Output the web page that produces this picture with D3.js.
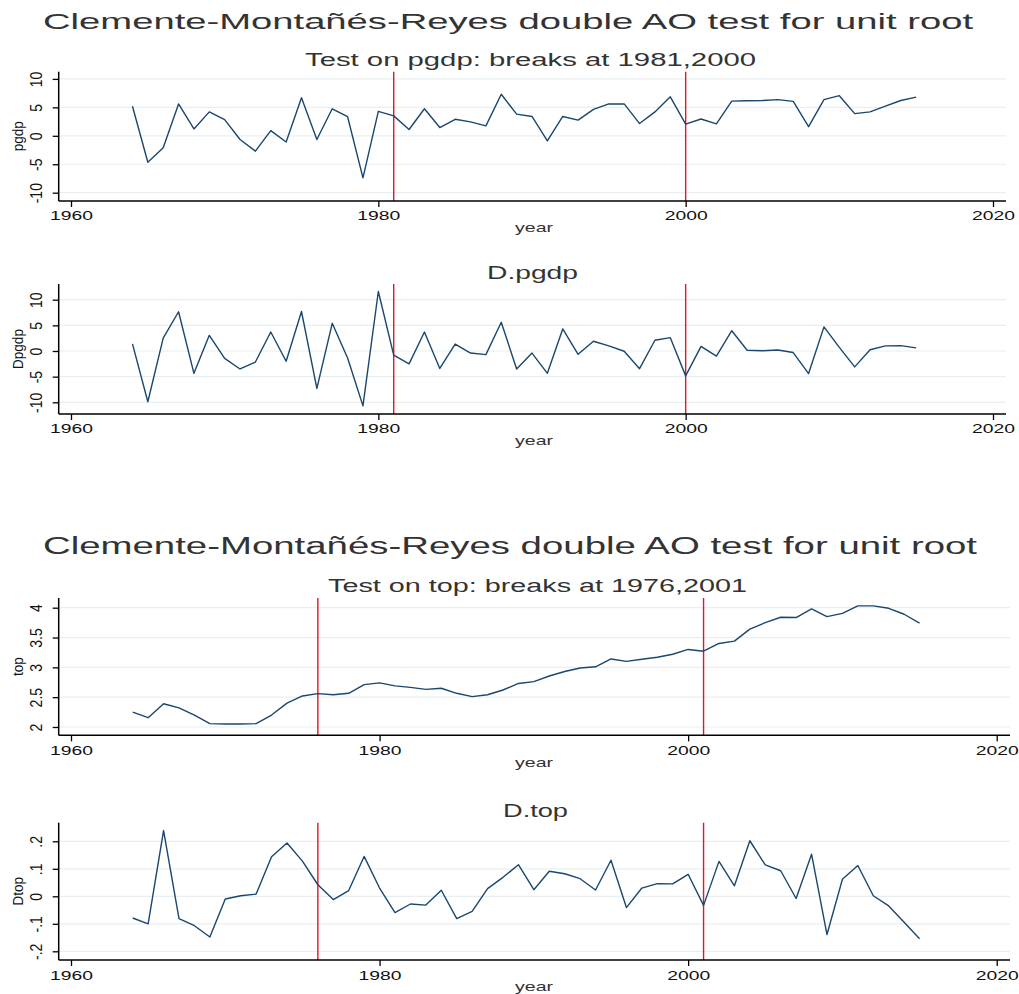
<!DOCTYPE html>
<html>
<head>
<meta charset="utf-8">
<script src="https://cdn.jsdelivr.net/npm/d3@7"></script>
<style>
  html, body { margin: 0; padding: 0; background: #fff; }
  svg { display: block; }
  text { font-family: "Liberation Sans", Arial, sans-serif; }
</style>
</head>
<body>
<svg id="chart" width="1019" height="994"></svg>
<script>
// ---------------- data ----------------
const years = [1964,1965,1966,1967,1968,1969,1970,1971,1972,1973,1974,1975,1976,1977,1978,1979,1980,1981,1982,1983,1984,1985,1986,1987,1988,1989,
               1990,1991,1992,1993,1994,1995,1996,1997,1998,1999,2000,2001,2002,2003,2004,2005,2006,2007,2008,2009,2010,2011,2012,2013,2014,2015];

const pgdp = [5.2,-4.65,-2.1,5.6,1.2,4.2,2.85,-0.65,-2.7,0.9,-1.1,6.7,-0.65,4.75,3.35,-7.4,4.3,3.5,1.1,4.75,1.45,2.9,2.45,1.75,7.3,3.8,
              3.4,-0.9,3.4,2.75,4.65,5.6,5.6,2.15,4.2,6.85,2.05,2.95,2.1,6.1,6.15,6.2,6.35,6.05,1.6,6.35,7.05,3.9,4.2,5.2,6.2,6.8];

const dpgdp = [1.4,-9.9,2.5,7.65,-4.35,3.05,-1.45,-3.5,-2.15,3.7,-2.0,7.7,-7.3,5.4,-1.35,-10.7,11.6,-0.8,-2.5,3.7,-3.4,1.35,-0.4,-0.7,5.6,-3.5,
               -0.4,-4.35,4.3,-0.65,1.9,1.0,-0.05,-3.45,2.1,2.6,-4.85,0.9,-1.0,3.95,0.15,0.05,0.2,-0.3,-4.4,4.7,0.7,-3.1,0.25,1.0,1.05,0.6];

const topSeries = [2.25,2.156,2.39,2.32,2.2,2.056,2.05,2.05,2.056,2.2,2.4,2.52,2.56,2.54,2.565,2.71,2.74,2.69,2.665,2.63,2.65,2.565,2.51,2.54,2.62,2.73,
                   2.76,2.855,2.93,2.99,3.01,3.14,3.1,3.135,3.17,3.22,3.30,3.27,3.40,3.44,3.64,3.75,3.84,3.835,3.98,3.85,3.905,4.03,4.03,3.99,3.89,3.74];

const dtop = [-0.079,-0.1,0.239,-0.081,-0.107,-0.148,-0.01,0.002,0.008,0.144,0.194,0.128,0.042,-0.012,0.021,0.145,0.03,-0.059,-0.028,-0.032,0.022,-0.081,-0.055,0.028,0.069,0.115,
              0.024,0.091,0.082,0.064,0.023,0.131,-0.041,0.03,0.046,0.045,0.08,-0.033,0.127,0.038,0.202,0.114,0.093,-0.008,0.153,-0.139,0.062,0.112,0.002,-0.035,-0.094,-0.154];

const breaksPgdp = [1981, 2000];
const breaksTop = [1976, 2001];

const xTicks = [1960, 1980, 2000, 2020];
const yTicksPgdp = [-10, -5, 0, 5, 10];
const yTickLabelsPgdp = ["-10", "-5", "0", "5", "10"];
const yTicksTop = [2, 2.5, 3, 3.5, 4];
const yTickLabelsTop = ["2", "2.5", "3", "3.5", "4"];
const yTicksDtop = [-0.2, -0.1, 0, 0.1, 0.2];
const yTickLabelsDtop = ["-.2", "-.1", "0", ".1", ".2"];

const mainTitle = "Clemente-Montañés-Reyes double AO test for unit root";
const subTitlePgdp = "Test on pgdp: breaks at 1981,2000";
const subTitleTop = "Test on top: breaks at 1976,2001";

// ---------------- drawing ----------------
const svg = d3.select("#chart");
const LINE = "#1a476f", RED = "#e3142b", GRID = "#e9eff1", TXT = "#333333";

function hText(x, y, str, size, len, anchor) {
  return svg.append("text")
    .attr("x", x).attr("y", y)
    .attr("font-size", size)
    .attr("fill", TXT)
    .attr("text-anchor", anchor || "start")
    .attr("textLength", len)
    .attr("lengthAdjust", "spacingAndGlyphs")
    .text(str);
}

function panel(cfg) {
  const x = d3.scaleLinear().domain([1960, 2020]).range(cfg.xr);
  const y = d3.scaleLinear().domain(cfg.yd).range(cfg.yr);
  const g = svg.append("g");

  // grid
  g.selectAll("line.grid").data(cfg.yTicks).join("line")
    .attr("x1", cfg.left).attr("x2", cfg.right)
    .attr("y1", d => y(d)).attr("y2", d => y(d))
    .attr("stroke", GRID).attr("stroke-width", 1.2);

  // break lines
  g.selectAll("line.brk").data(cfg.breaks).join("line")
    .attr("x1", d => x(d)).attr("x2", d => x(d))
    .attr("y1", cfg.top).attr("y2", cfg.bottom)
    .attr("stroke", RED).attr("stroke-width", 1.4);

  // data line
  const pts = years.map((yr, i) => ({ yr, v: cfg.values[i] }));
  g.append("path").datum(pts)
    .attr("fill", "none").attr("stroke", LINE).attr("stroke-width", 1.4)
    .attr("stroke-linejoin", "round")
    .attr("d", d3.line().x(d => x(d.yr)).y(d => y(d.v)));

  // x axis
  const xa = g.append("g").attr("transform", `translate(0,${cfg.bottom})`)
    .call(d3.axisBottom(x).tickValues(xTicks).tickFormat(d3.format("d")).tickSize(6).tickSizeOuter(0));
  xa.select(".domain").remove();
  xa.selectAll(".tick line").attr("stroke", "#000").attr("stroke-width", 1.3);
  xa.selectAll(".tick text")
    .attr("dy", null).attr("y", cfg.tickBase - cfg.bottom)
    .attr("font-size", 13).attr("fill", "#111")
    .attr("font-family", '"Liberation Sans", Arial, sans-serif')
    .attr("textLength", 43).attr("lengthAdjust", "spacingAndGlyphs");
  g.append("line").attr("x1", cfg.left).attr("x2", cfg.right)
    .attr("y1", cfg.bottom).attr("y2", cfg.bottom)
    .attr("stroke", "#000").attr("stroke-width", 1.5);

  // y axis
  const ya = g.append("g").attr("transform", `translate(${cfg.left},0)`)
    .call(d3.axisLeft(y).tickValues(cfg.yTicks).tickFormat((d, i) => cfg.yLabels[i]).tickSize(6).tickSizeOuter(0));
  ya.select(".domain").remove();
  ya.selectAll(".tick line").attr("stroke", "#000").attr("stroke-width", 1.3);
  ya.selectAll(".tick text")
    .attr("x", null).attr("dy", null)
    .attr("transform", `translate(${42 - cfg.left},0) scale(1.15,1) rotate(-90)`)
    .attr("text-anchor", "middle")
    .attr("font-size", 14).attr("fill", "#111")
    .attr("font-family", '"Liberation Sans", Arial, sans-serif');
  g.append("line").attr("x1", cfg.left).attr("x2", cfg.left)
    .attr("y1", cfg.top).attr("y2", cfg.bottom)
    .attr("stroke", "#000").attr("stroke-width", 1.5);

  // axis titles
  hText(534, cfg.yearBase, "year", 13.5, 38, "middle");
  svg.append("text")
    .attr("transform", `translate(23,${(cfg.top + cfg.bottom) / 2}) scale(1.1,1) rotate(-90)`)
    .attr("text-anchor", "middle").attr("font-size", 13.5).attr("fill", "#111")
    .text(cfg.yTitle);

  // panel title
  hText(cfg.title.x, cfg.title.y, cfg.title.text, cfg.title.size, cfg.title.len, "start");
}

hText(43, 29, mainTitle, 22.5, 930);
hText(43, 554, mainTitle, 23.5, 934);

panel({
  values: pgdp, breaks: breaksPgdp, yTicks: yTicksPgdp, yLabels: yTickLabelsPgdp, yTitle: "pgdp",
  left: 58.7, right: 1006, top: 71.7, bottom: 201,
  xr: [71, 993], yd: [-10, 10], yr: [192.7, 78.9],
  tickBase: 220, yearBase: 231.5,
  title: { text: subTitlePgdp, x: 305, y: 66, size: 17.5, len: 451 }
});

panel({
  values: dpgdp, breaks: breaksPgdp, yTicks: yTicksPgdp, yLabels: yTickLabelsPgdp, yTitle: "Dpgdp",
  left: 58.7, right: 1006, top: 284, bottom: 414,
  xr: [71, 993], yd: [-10, 10], yr: [402.3, 299.7],
  tickBase: 433, yearBase: 444.5,
  title: { text: "D.pgdp", x: 487, y: 279, size: 17.5, len: 91 }
});

panel({
  values: topSeries, breaks: breaksTop, yTicks: yTicksTop, yLabels: yTickLabelsTop, yTitle: "top",
  left: 58.7, right: 1010, top: 598, bottom: 735.3,
  xr: [71, 996.7], yd: [2, 4], yr: [727, 607.7],
  tickBase: 755.5, yearBase: 766.5,
  title: { text: subTitleTop, x: 328, y: 591.5, size: 18, len: 419 }
});

panel({
  values: dtop, breaks: breaksTop, yTicks: yTicksDtop, yLabels: yTickLabelsDtop, yTitle: "Dtop",
  left: 58.7, right: 1010, top: 822.7, bottom: 960,
  xr: [71, 996.7], yd: [-0.2, 0.2], yr: [951.3, 841.3],
  tickBase: 980, yearBase: 991,
  title: { text: "D.top", x: 503, y: 816.5, size: 17.5, len: 65 }
});
</script>
</body>
</html>
